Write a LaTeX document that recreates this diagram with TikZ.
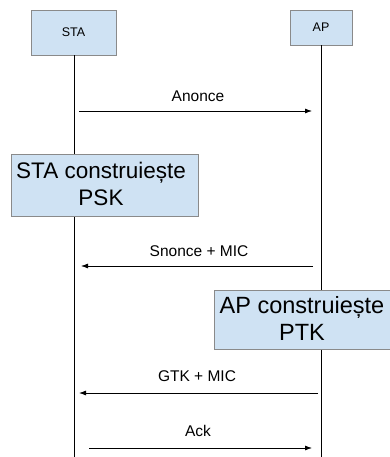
\documentclass[tikz,border=0pt]{standalone}
\usepackage{fontspec}
\setmainfont{Liberation Sans}
\usetikzlibrary{arrows.meta}
\definecolor{boxfill}{HTML}{CFE2F3}
\definecolor{boxline}{HTML}{8A8A8A}
\begin{document}
\begin{tikzpicture}[x=1pt,y=-1pt,
  actor/.style={draw=boxline,fill=boxfill,line width=0.8pt,inner sep=0pt,
    font=\fontsize{12.5}{15}\selectfont},
  note/.style={draw=boxline,fill=boxfill,line width=0.8pt,inner sep=0pt,align=center,
    font=\fontsize{22.5}{27}\selectfont},
  life/.style={line width=0.8pt},
  msg/.style={line width=0.8pt,-{Latex[length=7pt,width=5pt]}},
  lbl/.style={anchor=base,inner sep=0pt,font=\fontsize{15.5}{18}\selectfont}]
\useasboundingbox (0,0) rectangle (389,457);
\fill[white] (0,0) rectangle (389,457);

% participants
\node[actor,minimum width=85pt,minimum height=45pt] (sta) at (73.5,32.5) {STA};
\node[actor,minimum width=62pt,minimum height=35pt] (ap) at (321,27.5) {AP};

% lifelines
\coordinate (staend) at (74,457);
\coordinate (apend) at (321,457);
\draw[life] (sta.south -| staend) -- (staend);
\draw[life] (ap.south -| apend) -- (apend);

% notes over the lifelines
\node[note,minimum width=187pt,minimum height=62pt] (psk) at (104.5,185) {};
\node[align=center,font=\fontsize{22.5}{27}\selectfont,inner sep=0pt] (psktxt)
  at (101,184) {STA construiește\\PSK};
\node[note,minimum width=178pt,minimum height=59pt] (ptk) at (303,319.5) {};
\node[align=center,font=\fontsize{23.5}{27}\selectfont,inner sep=0pt] (ptktxt)
  at (302,318) {AP construiește\\PTK};

% message end points
\coordinate (m1a) at (79,111);  \coordinate (m1b) at (312,111);
\coordinate (m2a) at (313,266); \coordinate (m2b) at (81,266);
\coordinate (m3a) at (318,393); \coordinate (m3b) at (79,393);
\coordinate (m4a) at (89,448);  \coordinate (m4b) at (312,448);

\draw[msg] (m1a) -- (m1b);
\draw[msg] (m2a) -- (m2b);
\draw[msg] (m3a) -- (m3b);
\draw[msg] (m4a) -- (m4b);

\node[lbl] (l1) at (198,101.5) {Anonce};
\node[lbl] (l2) at (199,256.5) {Snonce + MIC};
\node[lbl] (l3) at (197,381) {GTK + MIC};
\node[lbl] (l4) at (198,436) {Ack};
\end{tikzpicture}
\end{document}
